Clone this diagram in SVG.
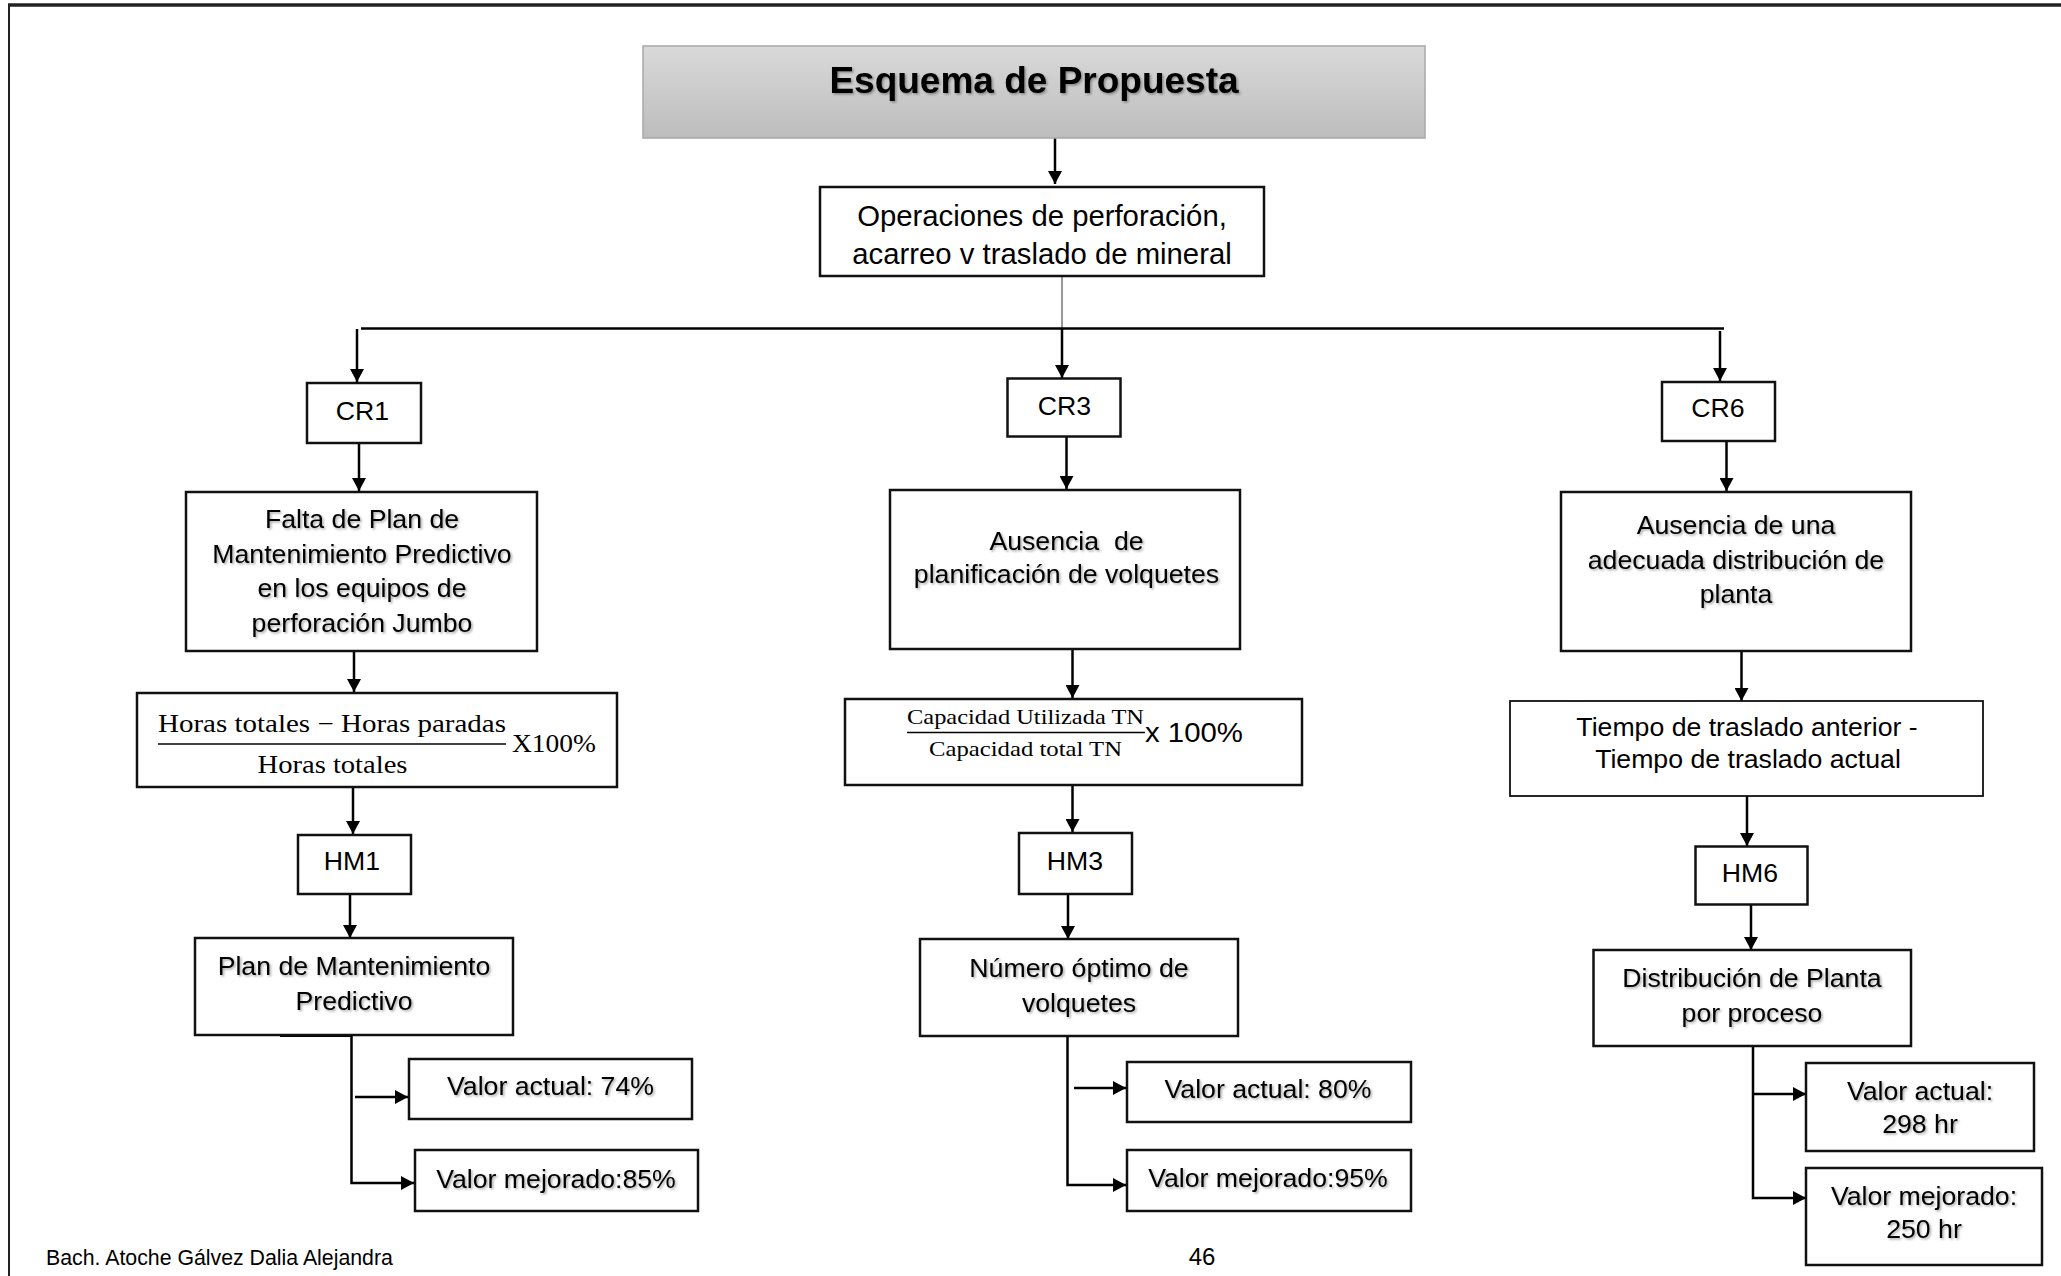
<svg xmlns="http://www.w3.org/2000/svg" width="2061" height="1276" viewBox="0 0 2061 1276">
<style>
.box{fill:#fff;stroke:#111;stroke-width:2.5}
.t{font-family:'Liberation Sans',Arial,sans-serif;font-size:26.67px;fill:#000;text-anchor:middle}
.sh{filter:url(#tsh)}
.f{font-family:'Liberation Serif','Times New Roman',serif;fill:#000}
.c{stroke:#000;stroke-width:2.5;fill:none}
.a{stroke:#000;stroke-width:2.5;fill:none;marker-end:url(#ah)}
.foot{font-family:'Liberation Sans',Arial,sans-serif;font-size:21.3px;fill:#000}
</style>
<defs>
<marker id="ah" viewBox="0 0 13 14" refX="13" refY="7" markerWidth="13" markerHeight="14" markerUnits="userSpaceOnUse" orient="auto">
<path d="M0,0 L13,7 L0,14 z" fill="#000"/>
</marker>
<linearGradient id="tg" x1="0" y1="0" x2="0" y2="1">
<stop offset="0" stop-color="#d9d9d9"/>
<stop offset="1" stop-color="#bdbdbd"/>
</linearGradient>
<filter id="tsh" x="-5%" y="-20%" width="110%" height="140%">
<feDropShadow dx="1.5" dy="1.5" stdDeviation="0.8" flood-color="#000" flood-opacity="0.35"/>
</filter>
</defs>
<rect width="2061" height="1276" fill="#fff"/>
<g id="page-border">
<line x1="8" y1="5" x2="2061" y2="5" stroke="#222" stroke-width="3.5"/>
<line x1="9" y1="4" x2="9" y2="1276" stroke="#222" stroke-width="2"/>
</g>

<g id="connectors">
<line class="a" x1="1055" y1="138" x2="1055" y2="184"/>
<line x1="1062" y1="276" x2="1062" y2="329" stroke="#555" stroke-width="1.2"/>
<line class="c" x1="361" y1="328.5" x2="1724" y2="328.5"/>
<line class="a" x1="357" y1="329" x2="357" y2="382"/>
<line class="a" x1="1062" y1="329" x2="1062" y2="378"/>
<line class="a" x1="1720" y1="331" x2="1720" y2="381"/>
<line class="a" x1="359" y1="443" x2="359" y2="491"/>
<line class="a" x1="354" y1="651" x2="354" y2="692"/>
<line class="a" x1="353" y1="787" x2="353" y2="834"/>
<line class="a" x1="350" y1="894" x2="350" y2="938"/>
<line x1="280" y1="1035" x2="351" y2="1035" stroke="#000" stroke-width="4"/>
<polyline class="a" points="351.5,1035 351.5,1183 414,1183"/>
<line class="a" x1="355" y1="1097" x2="408" y2="1097"/>
<line class="a" x1="1066.5" y1="436" x2="1066.5" y2="489"/>
<line class="a" x1="1072.5" y1="647" x2="1072.5" y2="698"/>
<line class="a" x1="1072.5" y1="785" x2="1072.5" y2="832"/>
<line class="a" x1="1068" y1="894" x2="1068" y2="939"/>
<polyline class="a" points="1067.5,1036 1067.5,1185 1126,1185"/>
<line class="a" x1="1074" y1="1088" x2="1126" y2="1088"/>
<line class="a" x1="1726.5" y1="441" x2="1726.5" y2="491"/>
<line class="a" x1="1741.5" y1="651" x2="1741.5" y2="701"/>
<line class="a" x1="1747" y1="796" x2="1747" y2="846"/>
<line class="a" x1="1751" y1="904" x2="1751" y2="950"/>
<polyline class="a" points="1753,1046 1753,1198 1806,1198"/>
<line class="a" x1="1753" y1="1094" x2="1806" y2="1094"/>
</g>

<g id="title">
<rect x="643" y="46" width="782" height="92" fill="url(#tg)" stroke="#a8a8a8" stroke-width="1.5"/>
<text x="1034" y="93" class="t sh" style="font-size:37px;font-weight:bold">Esquema de Propuesta</text>
</g>
<g id="operaciones">
<rect class="box" x="820" y="187" width="444" height="89"/>
<text class="t" style="font-size:29.3px" x="1042" y="226">Operaciones de perforación,</text>
<text class="t" style="font-size:29.3px" x="1042" y="264">acarreo v traslado de mineral</text>
</g>

<g id="cr1">
<rect class="box" x="307" y="383" width="114" height="60"/>
<text class="t" x="362.5" y="420">CR1</text>
</g>
<g id="falta-plan">
<rect class="box" x="186" y="492" width="351" height="159"/>
<text class="t sh" x="362" y="528">Falta de Plan de</text>
<text class="t sh" x="362" y="563">Mantenimiento Predictivo</text>
<text class="t sh" x="362" y="597">en los equipos de</text>
<text class="t sh" x="362" y="632">perforación Jumbo</text>
</g>
<g id="formula1">
<rect class="box" x="137" y="693" width="480" height="94"/>
<text class="f" x="158" y="732" font-size="25" textLength="348" lengthAdjust="spacingAndGlyphs">Horas totales − Horas paradas</text>
<line x1="158" y1="744" x2="506" y2="744" stroke="#000" stroke-width="1.5"/>
<text class="f" x="257.5" y="773" font-size="25" textLength="150" lengthAdjust="spacingAndGlyphs">Horas totales</text>
<text class="f" x="512" y="752" font-size="25" textLength="84" lengthAdjust="spacingAndGlyphs">X100%</text>
</g>
<g id="hm1">
<rect class="box" x="298" y="835" width="113" height="59"/>
<text class="t" x="352" y="870">HM1</text>
</g>
<g id="plan-mant">
<rect class="box" x="195" y="938" width="318" height="97"/>
<text class="t sh" x="354" y="975">Plan de Mantenimiento</text>
<text class="t sh" x="354" y="1010">Predictivo</text>
</g>
<g id="valor-actual-1">
<rect class="box" x="409" y="1059" width="283" height="60"/>
<text class="t sh" x="550.5" y="1095">Valor actual: 74%</text>
</g>
<g id="valor-mejorado-1">
<rect class="box" x="415" y="1150" width="283" height="61"/>
<text class="t sh" x="556" y="1188">Valor mejorado:85%</text>
</g>

<g id="cr3">
<rect class="box" x="1007.5" y="378.5" width="113" height="58"/>
<text class="t" x="1064.5" y="415">CR3</text>
</g>
<g id="ausencia-planif">
<rect class="box" x="890" y="490" width="350" height="159"/>
<text class="t sh" x="1066.5" y="550" xml:space="preserve">Ausencia  de</text>
<text class="t sh" x="1066.5" y="583">planificación de volquetes</text>
</g>
<g id="formula3">
<rect class="box" x="845" y="699" width="457" height="86"/>
<text class="f" x="907" y="724" font-size="21" textLength="237" lengthAdjust="spacingAndGlyphs">Capacidad Utilizada TN</text>
<line x1="907" y1="732.5" x2="1145" y2="732.5" stroke="#000" stroke-width="1.5"/>
<text class="f" x="929" y="756" font-size="21" textLength="193" lengthAdjust="spacingAndGlyphs">Capacidad total TN</text>
<text class="t" x="1145" y="742" style="text-anchor:start;font-size:28px" textLength="98" lengthAdjust="spacingAndGlyphs">x 100%</text>
</g>
<g id="hm3">
<rect class="box" x="1019" y="833" width="113" height="61"/>
<text class="t" x="1075" y="870">HM3</text>
</g>
<g id="numero-optimo">
<rect class="box" x="920" y="939" width="318" height="97"/>
<text class="t sh" x="1079" y="977">Número óptimo de</text>
<text class="t sh" x="1079" y="1012">volquetes</text>
</g>
<g id="valor-actual-3">
<rect class="box" x="1127" y="1062" width="284" height="60"/>
<text class="t sh" x="1268" y="1098">Valor actual: 80%</text>
</g>
<g id="valor-mejorado-3">
<rect class="box" x="1127" y="1150" width="284" height="61"/>
<text class="t sh" x="1268" y="1187">Valor mejorado:95%</text>
</g>

<g id="cr6">
<rect class="box" x="1662" y="382" width="113" height="59"/>
<text class="t" x="1718" y="417">CR6</text>
</g>
<g id="ausencia-distrib">
<rect class="box" x="1561" y="492" width="350" height="159"/>
<text class="t sh" x="1736" y="534">Ausencia de una</text>
<text class="t sh" x="1736" y="569">adecuada distribución de</text>
<text class="t sh" x="1736" y="603">planta</text>
</g>
<g id="tiempo">
<rect x="1510" y="701" width="473" height="95" fill="#fff" stroke="#111" stroke-width="1.8"/>
<text class="t" x="1747" y="736">Tiempo de traslado anterior -</text>
<text class="t" x="1748" y="768">Tiempo de traslado actual</text>
</g>
<g id="hm6">
<rect class="box" x="1695.5" y="846.5" width="112" height="58"/>
<text class="t" x="1750" y="882">HM6</text>
</g>
<g id="distribucion">
<rect class="box" x="1593.5" y="950" width="317.5" height="96"/>
<text class="t sh" x="1752" y="987">Distribución de Planta</text>
<text class="t sh" x="1752" y="1022">por proceso</text>
</g>
<g id="valor-actual-6">
<rect class="box" x="1806" y="1063" width="228" height="88"/>
<text class="t sh" x="1920" y="1100">Valor actual:</text>
<text class="t sh" x="1920" y="1133">298 hr</text>
</g>
<g id="valor-mejorado-6">
<rect class="box" x="1806" y="1168" width="236" height="97"/>
<text class="t sh" x="1924" y="1205">Valor mejorado:</text>
<text class="t sh" x="1924" y="1238">250 hr</text>
</g>

<g id="footer">
<text class="foot" x="46" y="1265">Bach. Atoche Gálvez Dalia Alejandra</text>
<text class="foot" x="1202" y="1265" style="text-anchor:middle;font-size:24px">46</text>
</g>
</svg>
